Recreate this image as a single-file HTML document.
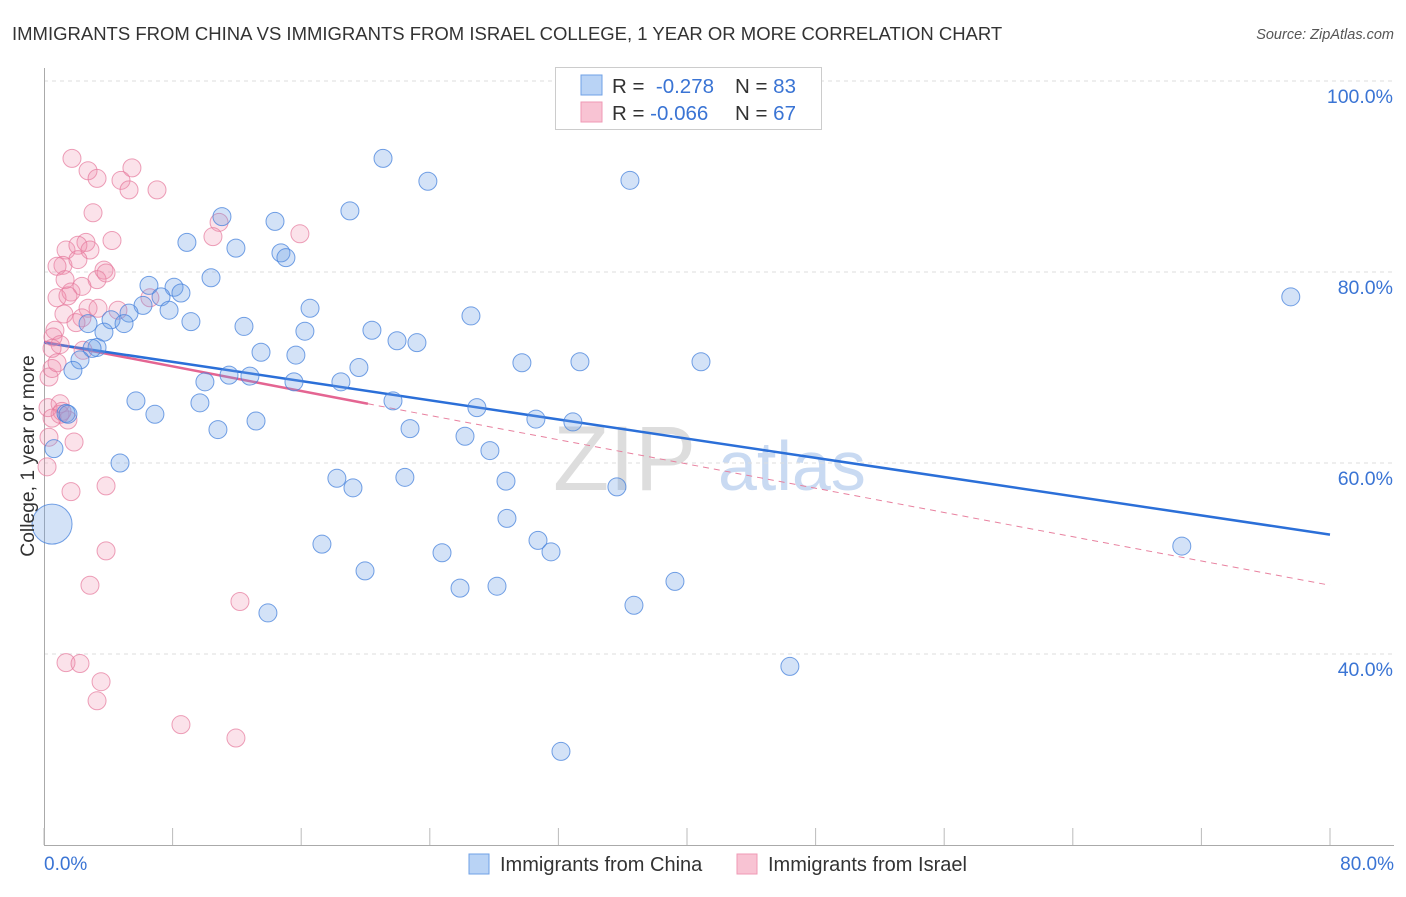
<!DOCTYPE html>
<html><head><meta charset="utf-8"><style>
body{margin:0;background:#fff;font-family:"Liberation Sans",sans-serif}
svg text{font-family:"Liberation Sans",sans-serif}
</style></head><body>
<svg id="chart" width="1406" height="892" viewBox="0 0 1406 892" xmlns="http://www.w3.org/2000/svg">
<text x="12" y="40" font-size="18.5" fill="#333">IMMIGRANTS FROM CHINA VS IMMIGRANTS FROM ISRAEL COLLEGE, 1 YEAR OR MORE CORRELATION CHART</text>
<text x="1394" y="39" font-size="14.5" fill="#555" font-style="italic" text-anchor="end">Source: ZipAtlas.com</text>
<g><text x="553" y="490" font-size="92" fill="#ddd" font-family="Liberation Serif,serif">ZIP</text><text x="718" y="490" font-size="70" fill="#c9daf2">atlas</text></g>
<g id="grid"></g><g id="axes"></g><g id="trend"></g><g id="pts"></g>
<text transform="translate(34,456) rotate(-90)" font-size="19.3" fill="#333" text-anchor="middle">College, 1 year or more</text>
<g>
<rect x="555.5" y="67.5" width="266" height="62" fill="#fff" stroke="#ccc"/>
<rect x="581" y="75" width="21" height="20" fill="#b9d3f5" stroke="#6fa0e6"/>
<rect x="581" y="102" width="21" height="20" fill="#f8c3d3" stroke="#ef9ab5"/>
<text x="612" y="93" font-size="20.5" fill="#333">R = <tspan fill="#3a74d4">&#160;-0.278</tspan></text>
<text x="735" y="93" font-size="20.5" fill="#333">N = <tspan fill="#3a74d4">83</tspan></text>
<text x="612" y="120" font-size="20.5" fill="#333">R = <tspan fill="#3a74d4">-0.066</tspan></text>
<text x="735" y="120" font-size="20.5" fill="#333">N = <tspan fill="#3a74d4">67</tspan></text>
</g>
<g>
<rect x="469" y="854" width="20" height="20" fill="#b9d3f5" stroke="#6fa0e6"/>
<text x="500" y="871" font-size="20" fill="#333">Immigrants from China</text>
<rect x="737" y="854" width="20" height="20" fill="#f8c3d3" stroke="#ef9ab5"/>
<text x="768" y="871" font-size="20" fill="#333">Immigrants from Israel</text>
</g>
</svg>
<script>
const yTicks=[40,60,80,100];
const xTickLabels=["0.0%","80.0%"];
const chinaX=[21.09,23.88,36.45,19.03,11.07,14.37,8.89,11.94,14.74,15.05,10.39,6.53,8.09,8.52,7.28,6.16,7.78,5.29,16.55,4.17,2.74,4.98,9.14,12.44,16.23,20.4,26.56,3.73,21.96,23.2,3.3,2.99,13.5,15.67,2.24,1.8,29.73,33.34,40.87,19.59,11.51,12.81,10.01,15.55,18.47,21.71,5.72,9.7,6.9,26.93,30.6,32.9,13.19,10.82,22.77,26.19,27.74,0.62,4.73,18.22,22.45,28.74,19.22,35.64,28.8,30.73,17.29,31.54,24.76,70.78,77.56,19.97,25.88,28.18,39.25,36.7,13.93,46.4,32.16,0.5,1.37,1.49];
const chinaY=[91.9,89.5,89.6,86.4,85.8,85.3,83.1,82.5,82.0,81.5,79.4,78.6,78.4,77.8,77.4,76.5,76.0,75.7,76.2,75.0,74.6,74.6,74.8,74.3,73.8,73.9,75.4,73.7,72.8,72.6,72.1,72.0,71.6,71.3,70.8,69.7,70.5,70.6,70.6,70.0,69.2,69.1,68.5,68.5,68.5,66.5,66.5,66.3,65.1,65.8,64.6,64.3,64.4,63.5,63.6,62.8,61.3,61.5,60.0,58.4,58.5,58.1,57.4,57.5,54.2,51.9,51.5,50.7,50.6,51.3,77.4,48.7,46.9,47.1,47.6,45.1,44.3,38.7,29.8,53.6,65.2,65.1];
const chinaR=[9,9,9,9,9,9,9,9,9,9,9,9,9,9,9,9,9,9,9,9,9,9,9,9,9,9,9,9,9,9,9,9,9,9,9,9,9,9,9,9,9,9,9,9,9,9,9,9,9,9,9,9,9,9,9,9,9,9,9,9,9,9,9,9,9,9,9,9,9,9,9,9,9,9,9,9,9,9,9,20,9,9];
const israelX=[1.74,2.74,3.3,5.47,4.79,5.29,7.03,3.05,10.89,10.51,15.92,4.23,1.37,2.61,2.11,2.86,1.18,0.81,2.11,3.73,3.3,3.86,1.31,1.68,0.81,2.36,1.49,2.74,6.59,4.6,3.36,1.24,2.36,1.99,0.68,0.56,1.0,0.5,2.43,0.31,0.5,0.81,0.25,1.0,1.49,1.0,1.12,1.87,0.31,0.5,0.19,1.68,3.86,3.86,2.86,12.19,1.37,2.24,3.55,3.3,8.52,11.94,34.46];
const israelY=[91.9,90.6,89.8,90.9,89.6,88.6,88.6,86.2,85.2,83.7,84.0,83.3,82.3,83.1,82.8,82.3,80.7,80.6,81.3,80.2,79.2,79.9,79.2,77.9,77.3,78.5,77.5,76.2,77.3,76.0,76.2,75.6,75.2,74.7,73.9,73.2,72.4,72.0,71.8,69.0,69.9,70.5,65.8,66.2,64.5,65.1,65.4,62.2,62.7,64.7,59.6,57.0,57.6,50.8,47.2,45.5,39.1,39.0,37.1,35.1,32.6,31.2,97.0];
const chinaTrend=[72.6,52.5];
const israelTrend=[72.7,66.2,47.2];
const israelSolidEnd=20.15;
const NS='http://www.w3.org/2000/svg';
const sx=v=>44+v*1286/80;
const sy=v=>654-(v-40)*191/20;
function mk(tag,attrs,parent){const e=document.createElementNS(NS,tag);for(const k in attrs)e.setAttribute(k,attrs[k]);parent.appendChild(e);return e;}
const grid=document.getElementById('grid');
yTicks.forEach(t=>{
  const l=mk('line',{x1:44,x2:1394,y1:sy(t),y2:sy(t),stroke:'#ddd','stroke-dasharray':'4,4'},grid);
  
  
  const tx=mk('text',{x:1393,y:sy(t)+22,'font-size':19.5,fill:'#3a74d4','text-anchor':'end'},grid);
  tx.textContent=t.toFixed(1)+'%';
  
  
});
const axes=document.getElementById('axes');
const ya=mk('line',{x1:44.5,x2:44.5,y1:68,y2:845,stroke:'#aaa'},axes);


const xa=mk('line',{x1:44,x2:1394,y1:845.5,y2:845.5,stroke:'#aaa'},axes);


for(let i=0;i<=10;i++){
  const tk=mk('line',{x1:sx(i*8),x2:sx(i*8),y1:828,y2:845,stroke:'#bbb'},axes);
  
  
}
[[0,'start',44],[80,'end',1394]].forEach((d,i)=>{
  const t=mk('text',{x:d[2],y:870,'font-size':19,fill:'#3a74d4','text-anchor':d[1]},axes);
  t.textContent=xTickLabels[i];
  
  
});
const pts=document.getElementById('pts');
israelX.forEach((x,i)=>{
  const c=mk('circle',{cx:sx(x),cy:sy(israelY[i]),r:9,fill:'rgba(240,140,170,0.25)',stroke:'rgba(230,120,155,0.7)','stroke-width':1},pts);
  
  
});
chinaX.forEach((x,i)=>{
  const c=mk('circle',{cx:sx(x),cy:sy(chinaY[i]),r:chinaR[i],fill:'rgba(110,160,230,0.3)',stroke:'rgba(70,130,220,0.75)','stroke-width':1},pts);
  
  
});
const tr=document.getElementById('trend');
const ld=mk('line',{x1:sx(israelSolidEnd),y1:sy(israelTrend[1]),x2:sx(80),y2:sy(israelTrend[2]),stroke:'#e8819f','stroke-width':1,'stroke-dasharray':'6,5'},tr);


const ls=mk('line',{x1:sx(0),y1:sy(israelTrend[0]),x2:sx(israelSolidEnd),y2:sy(israelTrend[1]),stroke:'#e46592','stroke-width':2.5},tr);


const lb=mk('line',{x1:sx(0),y1:sy(chinaTrend[0]),x2:sx(80),y2:sy(chinaTrend[1]),stroke:'#2b6fd8','stroke-width':2.5},tr);


</script>
</body></html>
